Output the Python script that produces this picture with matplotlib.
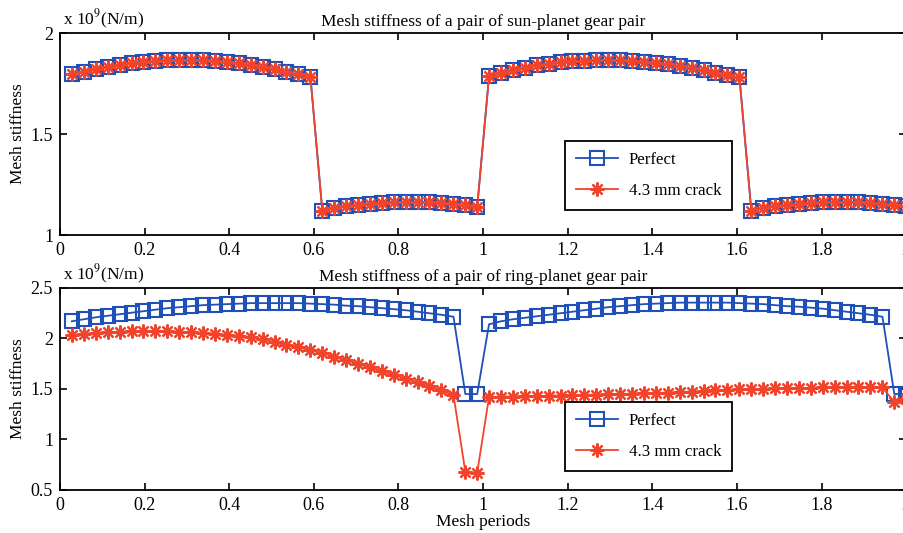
import matplotlib
matplotlib.use('Agg')
import matplotlib.pyplot as plt

plt.rcParams['font.family'] = ['Liberation Serif', 'DejaVu Serif']
plt.rcParams['mathtext.fontset'] = 'stix'

# sample positions (mesh periods)
x = [0.028, 0.056, 0.085, 0.113, 0.141, 0.169, 0.197, 0.225, 0.254, 0.282,
     0.310, 0.338, 0.366, 0.394, 0.423, 0.451, 0.479, 0.507, 0.535, 0.563,
     0.592, 0.620, 0.648, 0.676, 0.704, 0.732, 0.761, 0.789, 0.817, 0.845,
     0.873, 0.901, 0.930, 0.958, 0.986, 1.014, 1.042, 1.070, 1.099, 1.127,
     1.155, 1.183, 1.211, 1.239, 1.268, 1.296, 1.324, 1.352, 1.380, 1.408,
     1.437, 1.465, 1.493, 1.521, 1.549, 1.577, 1.606, 1.634, 1.662, 1.690,
     1.718, 1.746, 1.775, 1.803, 1.831, 1.859, 1.887, 1.915, 1.944, 1.972,
     2.000]

# sun-planet pair (x 1e9 N/m)
sun_perfect = [1.795, 1.808, 1.820, 1.832, 1.842, 1.850, 1.857, 1.862, 1.865, 1.866,
               1.866, 1.865, 1.862, 1.857, 1.850, 1.842, 1.832, 1.821, 1.808, 1.795,
               1.780,
               1.120, 1.135, 1.143, 1.150, 1.156, 1.160, 1.163, 1.165, 1.165, 1.163,
               1.160, 1.155, 1.148, 1.138,
               1.785, 1.800, 1.815, 1.828, 1.840, 1.849, 1.856, 1.861, 1.864, 1.866,
               1.866, 1.865, 1.862, 1.858, 1.852, 1.845, 1.836, 1.826, 1.815, 1.803,
               1.790, 1.780,
               1.120, 1.133, 1.142, 1.150, 1.156, 1.161, 1.164, 1.165, 1.165, 1.163,
               1.160, 1.155, 1.149, 1.142]
sun_crack = list(sun_perfect)

# ring-planet pair (x 1e9 N/m)
ring_perfect = [2.170, 2.190, 2.210, 2.225, 2.240, 2.255, 2.270, 2.285, 2.300, 2.310,
                2.320, 2.330, 2.335, 2.340, 2.345, 2.350, 2.350, 2.350, 2.350, 2.350,
                2.345, 2.340, 2.335, 2.325, 2.320, 2.310, 2.300, 2.290, 2.280, 2.265,
                2.250, 2.235, 2.215, 1.450, 1.450,
                2.140, 2.170, 2.190, 2.205, 2.220, 2.235, 2.250, 2.265, 2.280, 2.295,
                2.310, 2.320, 2.330, 2.340, 2.345, 2.350, 2.355, 2.355, 2.355, 2.355,
                2.355, 2.350, 2.345, 2.340, 2.330, 2.320, 2.315, 2.305, 2.295, 2.280,
                2.265, 2.250, 2.235, 2.215, 1.450, 1.450]
ring_crack = [2.030, 2.045, 2.055, 2.060, 2.065, 2.070, 2.070, 2.070, 2.070, 2.065,
              2.060, 2.055, 2.045, 2.035, 2.025, 2.010, 1.990, 1.965, 1.940, 1.915,
              1.885, 1.855, 1.820, 1.785, 1.750, 1.715, 1.675, 1.640, 1.600, 1.565,
              1.525, 1.485, 1.440, 0.680, 0.670,
              1.420, 1.425, 1.425, 1.430, 1.430, 1.435, 1.435, 1.440, 1.440, 1.445,
              1.450, 1.450, 1.455, 1.460, 1.460, 1.465, 1.470, 1.475, 1.480, 1.485,
              1.490, 1.495, 1.500, 1.500, 1.505, 1.505, 1.510, 1.510, 1.515, 1.515,
              1.515, 1.515, 1.515, 1.515, 1.370, 1.400]

xticks = [0, 0.2, 0.4, 0.6, 0.8, 1, 1.2, 1.4, 1.6, 1.8, 2]
xticklabels = ['0', '0.2', '0.4', '0.6', '0.8', '1', '1.2', '1.4', '1.6', '1.8', '2']

BLUE = '#1f50b8'
RED = '#f0442c'
STAR = (8, 2, 0)

fig = plt.figure(figsize=(9.04, 5.33), dpi=100)
ax1 = fig.add_axes([0.0664, 0.559, 0.936, 0.379])
ax2 = fig.add_axes([0.0664, 0.0807, 0.936, 0.379])


def draw(ax, perfect, crack, title, ylim, yticks, yticklabels, leg_anchor):
    ax.plot(x, perfect, color=BLUE, lw=1.3, marker='s', ms=9.5, mfc='none',
            mec=BLUE, mew=1.5, label='Perfect')
    ax.plot(x, crack, color=RED, lw=1.3, marker=STAR, ms=10, mfc=RED,
            mec=RED, mew=1.6, label='4.3 mm crack')
    ax.set_xlim(0, 2)
    ax.set_ylim(*ylim)
    ax.set_xticks(xticks)
    ax.set_xticklabels(xticklabels)
    ax.set_yticks(yticks)
    ax.set_yticklabels(yticklabels)
    ax.tick_params(direction='in', top=True, right=True, length=5, width=1.2,
                   labelsize=13, pad=5)
    for s in ax.spines.values():
        s.set_linewidth(1.3)
    ax.set_title(title, fontsize=12.5, pad=5)
    ax.set_ylabel('Mesh stiffness', fontsize=12.5, labelpad=3)
    ax.text(0.004, 1.012, r'x 10$^9$(N/m)', transform=ax.transAxes,
            fontsize=12.5, ha='left', va='bottom')
    leg = ax.legend(loc='upper left', bbox_to_anchor=leg_anchor,
                    bbox_transform=fig.transFigure, fontsize=12.2,
                    handlelength=2.5, handletextpad=0.6, borderpad=0.65,
                    labelspacing=0.9, borderaxespad=0, fancybox=False,
                    framealpha=1, edgecolor='black')
    leg.get_frame().set_linewidth(1.3)


draw(ax1, sun_perfect, sun_crack,
     'Mesh stiffness of a pair of sun-planet gear pair',
     (1, 2), [1, 1.5, 2], ['1', '1.5', '2'], (0.625, 0.736))
draw(ax2, ring_perfect, ring_crack,
     'Mesh stiffness of a pair of ring-planet gear pair',
     (0.5, 2.5), [0.5, 1, 1.5, 2, 2.5], ['0.5', '1', '1.5', '2', '2.5'],
     (0.625, 0.246))
ax2.set_xlabel('Mesh periods', fontsize=12.5, labelpad=0)

fig.savefig('out.png', dpi=100)
